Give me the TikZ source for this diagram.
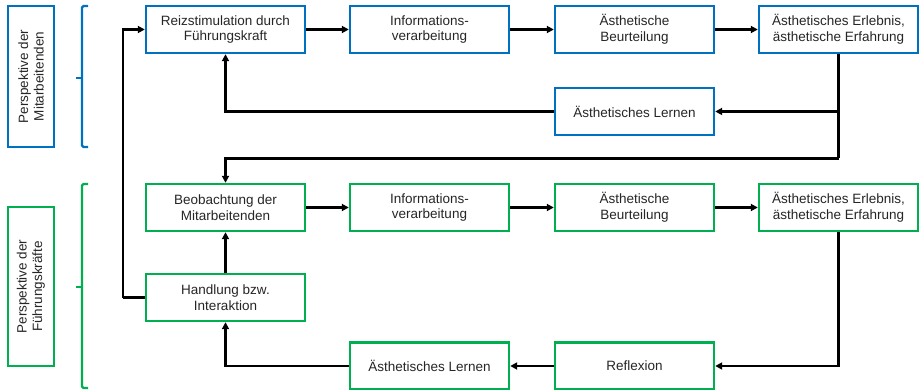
\documentclass[tikz,border=0pt]{standalone}
\usepackage{fontspec}
\setmainfont{Liberation Sans}
\usetikzlibrary{arrows.meta}
\definecolor{mblue}{HTML}{0070C0}
\definecolor{mgreen}{HTML}{00B050}
\definecolor{txt}{HTML}{262626}
\tikzset{
  box/.style={draw, line width=2.4pt, fill=white, minimum width=159pt, minimum height=47pt,
    align=center, text=txt, font=\fontsize{13.5}{15.5}\selectfont, inner sep=2pt},
  bbox/.style={box, draw=mblue},
  gbox/.style={box, draw=mgreen},
  lbl/.style={draw, line width=2.4pt, rotate=90, minimum height=46pt, align=center,
    text=txt, font=\fontsize{13.5}{15.5}\selectfont, inner sep=2pt},
  arr/.style={line width=2.2pt, -{Triangle[length=7pt,width=7pt]}},
  ln/.style={line width=2.2pt},
  brace/.style={line width=2.2pt, rounded corners=1.5pt}
}
\begin{document}
\begin{tikzpicture}[x=1pt,y=-1pt]
\useasboundingbox (0,0) rectangle (921,390);
% side labels
\node[lbl, draw=mblue, minimum width=141pt] (pm) at (31,76.5) {Perspektive der\\Mitarbeitenden};
\node[lbl, draw=mgreen, minimum width=159pt] (pf) at (31,286.5) {Perspektive der\\Führungskräfte};
% braces
\draw[brace, mblue] (88,6) -- (82,6) -- (82,147) -- (88,147);
\draw[ln, mblue] (82,78) -- (76,78);
\draw[brace, mgreen] (88,184) -- (82,184) -- (82,388) -- (88,388);
\draw[ln, mgreen] (82,287) -- (76,287);
% top row
\node[bbox] (r1) at (225.5,29.5) {Reizstimulation durch\\Führungskraft};
\node[bbox] (i1) at (429.5,29.5) {Informations-\\verarbeitung};
\node[bbox] (b1) at (634.5,29.5) {Ästhetische\\Beurteilung};
\node[bbox] (e1) at (838.5,29.5) {Ästhetisches Erlebnis,\\ästhetische Erfahrung};
\node[bbox] (l1) at (634.5,111.5) {Ästhetisches Lernen};
% green rows
\node[gbox] (o2) at (225.5,207.5) {Beobachtung der\\Mitarbeitenden};
\node[gbox] (i2) at (429.5,207.5) {Informations-\\verarbeitung};
\node[gbox] (b2) at (634.5,207.5) {Ästhetische\\Beurteilung};
\node[gbox] (e2) at (838.5,207.5) {Ästhetisches Erlebnis,\\ästhetische Erfahrung};
\node[gbox] (h2) at (225.5,297.5) {Handlung bzw.\\Interaktion};
\node[gbox] (l2) at (429.5,366) {Ästhetisches Lernen};
\node[gbox] (f2) at (634.5,366) {Reflexion};
% connectors top
\draw[arr] (r1) -- (i1);
\draw[arr] (i1) -- (b1);
\draw[arr] (b1) -- (e1);
\coordinate (t1) at (838.5,158.5);
\draw[ln] (e1.south) -- (t1);
\draw[arr] (e1.south |- l1.east) -- (l1.east);
\draw[arr] (l1.west) -| (r1.south);
\draw[arr] (t1) -| (o2.north);
% connectors green
\draw[arr] (o2) -- (i2);
\draw[arr] (i2) -- (b2);
\draw[arr] (b2) -- (e2);
\draw[arr] (e2.south) |- (f2.east);
\draw[arr] (f2) -- (l2);
\draw[arr] (l2.west) -| (h2.south);
\draw[arr] (h2) -- (o2);
\coordinate (t2) at (123,297.5);
\draw[ln] (h2.west) -- (t2);
\draw[arr] (t2) |- (r1.west);
\end{tikzpicture}
\end{document}
